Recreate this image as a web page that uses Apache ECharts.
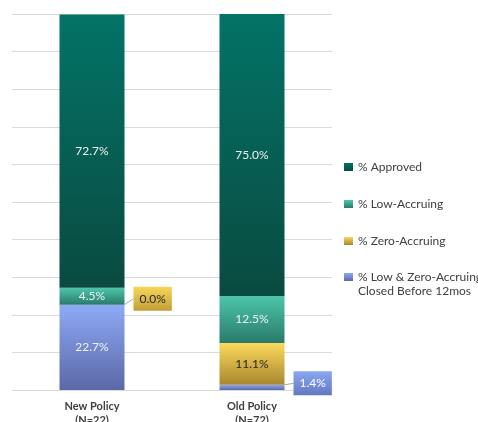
<!DOCTYPE html>
<html>
<head>
<meta charset="utf-8">
<script src="https://cdn.jsdelivr.net/npm/echarts@6/dist/echarts.min.js"></script>
<style>
  html, body { margin: 0; padding: 0; background: #fff; }
  #chart { width: 478px; height: 422px; }
</style>
</head>
<body>
<div id="chart"></div>
<script>
// Policy groups on the x axis
const categories = ['New Policy\n(N=22)', 'Old Policy\n(N=72)'];

// Share of applications per outcome (%), bottom to top of each stack
const closedEarly = [22.7, 1.4];
const zeroAccruing = [0.0, 11.1];
const lowAccruing = [4.5, 12.5];
const approved = [72.7, 75.0];

const seriesNames = [
  '% Low & Zero-Accruing Closed Before 12mos',
  '% Zero-Accruing',
  '% Low-Accruing',
  '% Approved'
];

const FONT = 'Lato, "Noto Sans", sans-serif';

function vgrad(top, bottom) {
  return new echarts.graphic.LinearGradient(0, 0, 0, 1, [
    { offset: 0, color: top },
    { offset: 1, color: bottom }
  ]);
}

const colBlue = vgrad('#8eaaf6', '#5a68a6');
const colYellow = vgrad('#fbd95c', '#a8872e');
const colLow = vgrad('#4cc6aa', '#2a7a6a');
const colApproved = vgrad('#037367', '#0a4a40');

const insideLabel = {
  show: true,
  position: 'inside',
  color: '#eef4f2',
  fontSize: 12,
  fontFamily: FONT,
  formatter: p => p.value.toFixed(1) + '%'
};

// Small segments get a boxed callout to the right of the bar
function calloutLabel(bg, textColor) {
  return {
    show: true,
    position: 'right',
    distance: 9,
    color: textColor,
    fontSize: 12,
    fontFamily: FONT,
    backgroundColor: bg,
    padding: [6, 6, 6, 6],
    formatter: p => p.value.toFixed(1) + '%'
  };
}

const chart = echarts.init(document.getElementById('chart'), null, { renderer: 'canvas' });

const option = {
  animation: false,
  backgroundColor: '#ffffff',
  grid: { left: 12, right: 146, top: 14, bottom: 32, containLabel: false, outerBoundsMode: 'none' },
  xAxis: {
    type: 'category',
    data: categories,
    axisTick: { show: false },
    axisLine: { lineStyle: { color: '#d9d9d9', width: 1 } },
    axisLabel: {
      color: '#404040',
      fontWeight: 'bold',
      fontSize: 11,
      fontFamily: FONT,
      lineHeight: 14,
      margin: 9
    }
  },
  yAxis: {
    type: 'value',
    min: 0,
    max: 100,
    interval: 10,
    axisLabel: { show: false },
    axisLine: { show: false },
    axisTick: { show: false },
    splitLine: { lineStyle: { color: '#d9d9d9', width: 1 } }
  },
  legend: [
    {
      orient: 'vertical',
      left: 339,
      top: 155,
      itemWidth: 9,
      itemHeight: 8,
      itemGap: 23,
      icon: 'rect',
      textStyle: { color: '#404040', fontSize: 12, fontFamily: FONT, lineHeight: 14 },
      data: [seriesNames[3], seriesNames[2], seriesNames[1]]
    },
    {
      orient: 'vertical',
      left: 339,
      top: 251,
      itemWidth: 9,
      itemHeight: 8,
      icon: 'rect',
      textStyle: { color: '#404040', fontSize: 12, fontFamily: FONT, lineHeight: 14 },
      formatter: () => '\n% Low & Zero-Accruing\nClosed Before 12mos',
      data: [seriesNames[0]]
    }
  ],
  series: [
    {
      name: seriesNames[0],
      type: 'bar',
      stack: 'total',
      barWidth: 65,
      itemStyle: { color: colBlue },
      label: insideLabel,
      labelLine: { show: true, lineStyle: { color: '#a6a6a6', width: 1 } },
      labelLayout: p => (p.dataIndex === 1 ? { dy: -4 } : {}),
      data: [
        closedEarly[0],
        { value: closedEarly[1], label: calloutLabel(vgrad('#8aa6f2', '#6478c0'), '#ffffff') }
      ]
    },
    {
      name: seriesNames[1],
      type: 'bar',
      stack: 'total',
      barWidth: 65,
      itemStyle: { color: colYellow },
      label: Object.assign({}, insideLabel, { color: '#262626' }),
      labelLine: { show: true, lineStyle: { color: '#a6a6a6', width: 1 } },
      labelLayout: p => (p.dataIndex === 0 ? { dy: -6 } : {}),
      data: [
        { value: zeroAccruing[0], label: calloutLabel(vgrad('#f7d65a', '#c29e36'), '#262626') },
        zeroAccruing[1]
      ]
    },
    {
      name: seriesNames[2],
      type: 'bar',
      stack: 'total',
      barWidth: 65,
      itemStyle: { color: colLow },
      label: insideLabel,
      data: lowAccruing
    },
    {
      name: seriesNames[3],
      type: 'bar',
      stack: 'total',
      barWidth: 65,
      itemStyle: { color: colApproved },
      label: insideLabel,
      data: approved
    }
  ]
};

chart.setOption(option);
</script>
</body>
</html>
